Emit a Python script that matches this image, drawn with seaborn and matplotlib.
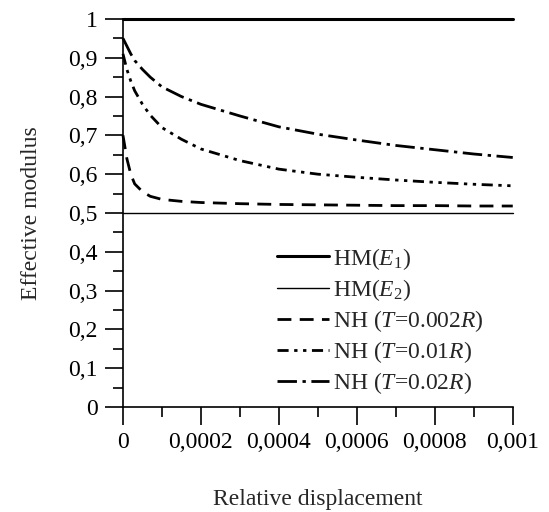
import numpy as np
import pandas as pd
import seaborn as sns
import matplotlib.pyplot as plt
from matplotlib.ticker import MultipleLocator, FuncFormatter

# Values
disp = [0, 0.00001, 0.00002, 0.00003, 0.00005, 0.00007, 0.0001, 0.00015,
        0.0002, 0.0003, 0.0004, 0.0005, 0.0006, 0.0007, 0.0008, 0.0009, 0.001]
hm_e1 = [1.0] * len(disp)
hm_e2 = [0.5] * len(disp)
nh_0002 = [0.70, 0.64, 0.60, 0.575, 0.555, 0.543, 0.535, 0.530, 0.527,
           0.524, 0.522, 0.521, 0.520, 0.519, 0.519, 0.518, 0.518]
nh_001 = [0.91, 0.87, 0.84, 0.815, 0.78, 0.752, 0.72, 0.69, 0.665,
          0.635, 0.613, 0.600, 0.592, 0.585, 0.579, 0.574, 0.570]
nh_002 = [0.95, 0.93, 0.91, 0.893, 0.87, 0.85, 0.825, 0.80, 0.78,
          0.75, 0.722, 0.703, 0.688, 0.674, 0.663, 0.652, 0.643]

labels = [r'HM($E_1$)', r'HM($E_2$)', r'NH ($T$=0.002$R$)',
          r'NH ($T$=0.01$R$)', r'NH ($T$=0.02$R$)']

sns.set_style("ticks")
plt.rcParams['font.family'] = ['Liberation Serif', 'DejaVu Serif']
plt.rcParams['mathtext.fontset'] = 'custom'
plt.rcParams['mathtext.rm'] = 'Liberation Serif'
plt.rcParams['mathtext.it'] = 'Liberation Serif:italic'

fig = plt.figure(figsize=(5.49, 5.12), dpi=100)
ax = fig.add_axes([0.224, 0.205, 0.71, 0.758])

series = [hm_e1, hm_e2, nh_0002, nh_001, nh_002]
widths = [2.2, 1.0, 2.0, 2.0, 2.0]
dashes = ['-', '-', (0, (5, 3)), (0, (4, 2, 1.2, 2, 1.2, 2)), (0, (7, 2, 1.2, 2))]
for vals, lab, lw, ls in zip(series, labels, widths, dashes):
    sns.lineplot(x=disp, y=vals, ax=ax, color='black', linewidth=lw,
                 linestyle=ls, label=lab, clip_on=False)

ax.set_xlim(0, 0.001)
ax.set_ylim(0, 1)
sns.despine(ax=ax)
for s in ['left', 'bottom']:
    ax.spines[s].set_linewidth(1.2)
    ax.spines[s].set_color('black')

comma = FuncFormatter(lambda v, p: f"{v:g}".replace('.', ','))
ax.xaxis.set_major_locator(MultipleLocator(0.0002))
ax.xaxis.set_minor_locator(MultipleLocator(0.0001))
ax.yaxis.set_major_locator(MultipleLocator(0.1))
ax.yaxis.set_minor_locator(MultipleLocator(0.05))
ax.xaxis.set_major_formatter(comma)
ax.yaxis.set_major_formatter(comma)
ax.tick_params(which='major', direction='out', length=13, width=1.2,
               labelsize=17, colors='black', pad=5)
ax.tick_params(which='minor', direction='out', length=7, width=1.2, colors='black')

ax.set_xlabel('Relative displacement', fontsize=17, labelpad=26)
ax.set_ylabel('Effective modulus', fontsize=17, labelpad=19)

ax.legend(loc='upper left', bbox_to_anchor=(0.37, 0.44), frameon=False,
          fontsize=17, handlelength=2.2, handletextpad=0.2, labelspacing=0.22,
          borderaxespad=0)

fig.savefig('out.png', dpi=100)
